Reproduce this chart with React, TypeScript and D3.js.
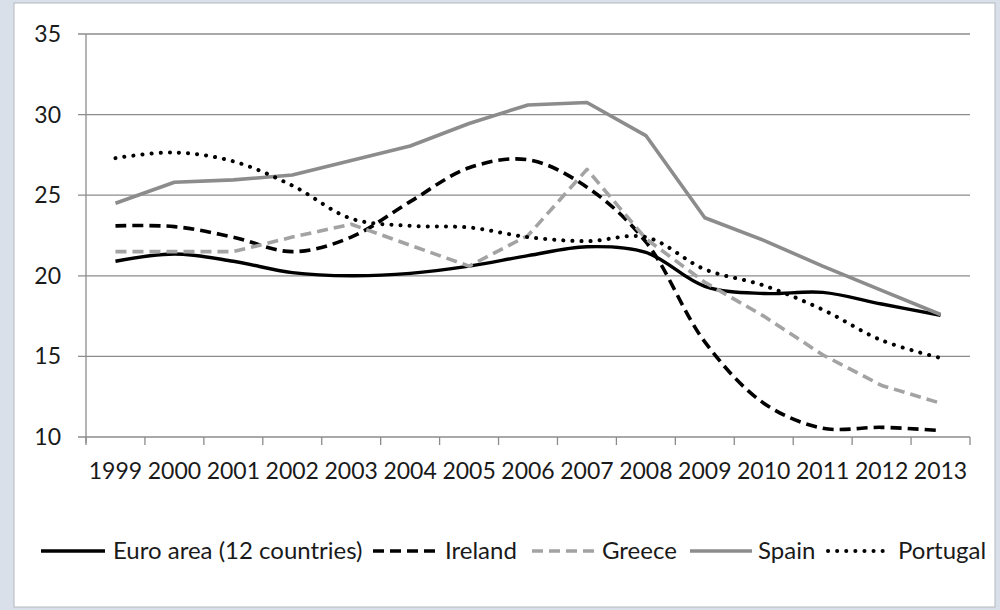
import React from "react";
import * as d3 from "d3";

const years = ["1999","2000","2001","2002","2003","2004","2005","2006","2007","2008","2009","2010","2011","2012","2013"];
const euroArea = [20.9,21.35,20.9,20.2,20.0,20.15,20.6,21.25,21.8,21.45,19.35,18.9,18.97,18.25,17.55];
const ireland = [23.1,23.05,22.4,21.5,22.4,24.6,26.7,27.2,25.5,22.1,15.9,12.1,10.55,10.6,10.4];
const greece = [21.5,21.5,21.5,22.4,23.2,21.9,20.6,22.5,26.6,22.3,19.6,17.5,15.1,13.2,12.1];
const spain = [24.5,25.8,25.95,26.25,27.15,28.05,29.45,30.6,30.75,28.7,23.6,22.2,20.6,19.1,17.6];
const portugal = [27.3,27.65,27.1,25.6,23.55,23.1,23.0,22.4,22.15,22.4,20.4,19.4,17.9,16.0,14.9];
const yTicks = [10,15,20,25,30,35];

const seriesNames = ["Euro area (12 countries)","Ireland","Greece","Spain","Portugal"];

const FONT = "Lato, 'Open Sans', sans-serif";

export default function App() {
  const W = 1000, H = 610;
  const left = 86, right = 970, top = 34, bottom = 437;
  const x = d3.scalePoint<string>().domain(years).range([left, right]).padding(0.5);
  const y = d3.scaleLinear().domain([10, 35]).range([bottom, top]);
  const step = (right - left) / years.length;

  const series = [
    { name: seriesNames[0], data: euroArea, color: "#000", dash: "", width: 3.4, smooth: true, cap: "butt" },
    { name: seriesNames[1], data: ireland, color: "#000", dash: "11,6", width: 3.6, smooth: true, cap: "butt" },
    { name: seriesNames[2], data: greece, color: "#a3a3a3", dash: "11,6", width: 3.6, smooth: false, cap: "butt" },
    { name: seriesNames[3], data: spain, color: "#8c8c8c", dash: "", width: 3.6, smooth: false, cap: "butt" },
    { name: seriesNames[4], data: portugal, color: "#000", dash: "0.1,9", width: 4, smooth: true, cap: "round" },
  ];

  const mkLine = (smooth: boolean) =>
    d3.line<number>()
      .x((_, i) => x(years[i]) as number)
      .y((d) => y(d))
      .curve(smooth ? d3.curveCatmullRom.alpha(0.5) : d3.curveLinear);

  const legendItems = [
    { lx1: 41, lx2: 105, tx: 113 },
    { lx1: 373, lx2: 440, tx: 445 },
    { lx1: 532, lx2: 596, tx: 602 },
    { lx1: 690, lx2: 752, tx: 758 },
    { lx1: 828, lx2: 885, tx: 898 },
  ];
  const legendY = 551;

  return (
    <svg width={W} height={H} style={{ position: "absolute", left: 0, top: 0 }}>
      <rect x={0} y={0} width={W} height={H} fill="#d9e0e9" />
      <rect x={14} y={3} width={981} height={604} fill="#fff" stroke="#b4b8bd" strokeWidth={1} />
      {yTicks.map((t) => (
        <g key={t}>
          <line x1={78} x2={right} y1={y(t)} y2={y(t)} stroke="#8c8c8c" strokeWidth={1.3} />
          <text x={61} y={y(t)} dy="0.35em" textAnchor="end" fontFamily={FONT} fontSize={23} fill="#1a1a1a">{t}</text>
        </g>
      ))}
      <line x1={left} x2={left} y1={top} y2={bottom + 6} stroke="#8c8c8c" strokeWidth={1.3} />
      {d3.range(years.length + 1).map((i) => (
        <line key={i} x1={left + i * step} x2={left + i * step} y1={bottom} y2={bottom + 8} stroke="#8c8c8c" strokeWidth={1.3} />
      ))}
      {years.map((yr) => (
        <text key={yr} x={x(yr) as number} y={471} dy="0.35em" textAnchor="middle" fontFamily={FONT} fontSize={23} fill="#1a1a1a">{yr}</text>
      ))}
      {series.map((s) => (
        <path key={s.name} d={mkLine(s.smooth)(s.data) || ""} fill="none" stroke={s.color}
          strokeWidth={s.width} strokeDasharray={s.dash || undefined} strokeLinecap={s.cap as any} strokeLinejoin="round" />
      ))}
      {series.map((s, i) => (
        <g key={"lg" + s.name}>
          <line x1={legendItems[i].lx1} x2={legendItems[i].lx2} y1={legendY} y2={legendY} stroke={s.color}
            strokeWidth={s.width} strokeDasharray={s.dash || undefined} strokeLinecap={s.cap as any} />
          <text x={legendItems[i].tx} y={legendY} dy="0.35em" fontFamily={FONT} fontSize={24} fill="#1a1a1a">{s.name}</text>
        </g>
      ))}
    </svg>
  );
}
